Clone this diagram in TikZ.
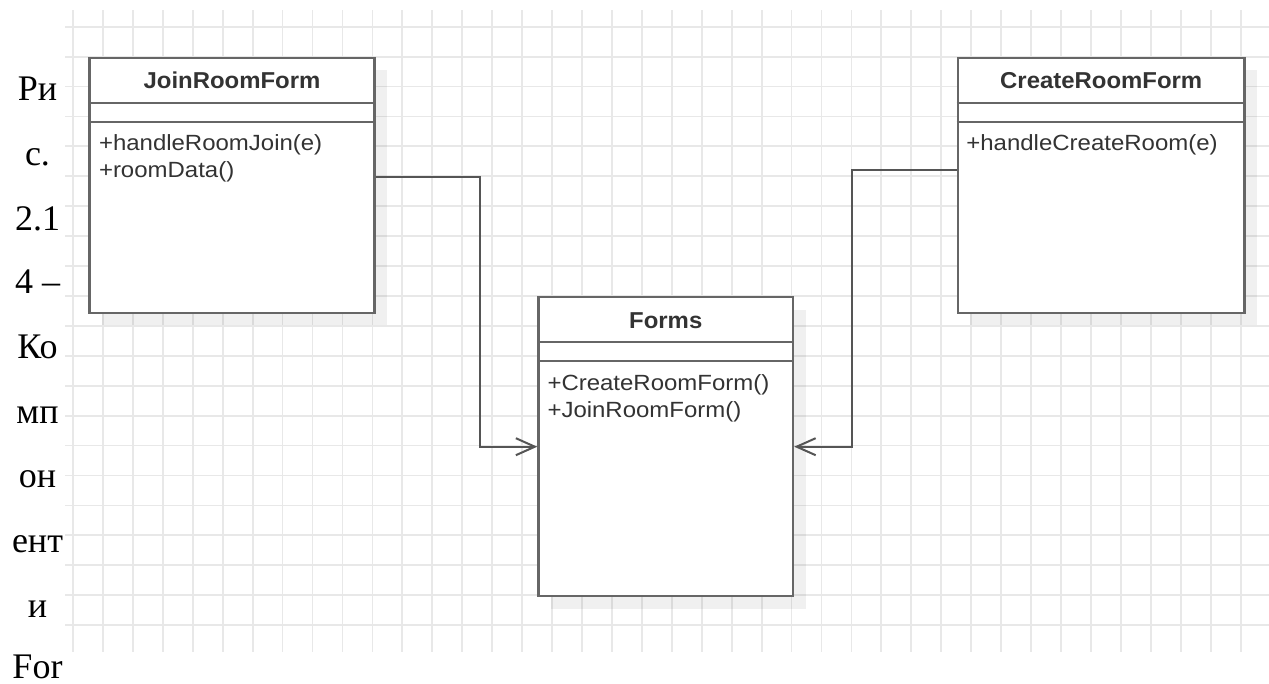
\documentclass[tikz,border=0pt]{standalone}
\usepackage{fontspec}
\setmainfont{Liberation Sans}
\newfontfamily\capfont{Liberation Serif}
\usetikzlibrary{arrows.meta}
\definecolor{gridc}{HTML}{E8E8E8}
\definecolor{boxc}{HTML}{666666}
\definecolor{linec}{HTML}{555555}
\definecolor{txtc}{HTML}{333333}
\tikzset{
  gridline/.style={draw=gridc, line width=1.8pt},
  umlbox/.style={draw=boxc, line width=2.4pt, fill=white, inner sep=0pt, anchor=north west},
  boxshadow/.style={fill=black, fill opacity=0.06, draw=none},
  sepline/.style={draw=boxc, line width=2.2pt},
  umltitle/.style={anchor=base, inner sep=0pt, text=txtc, font=\fontsize{23}{26}\selectfont\bfseries},
  umlop/.style={anchor=base west, inner sep=0pt, text=txtc, font=\fontsize{22}{26}\selectfont},
  conn/.style={draw=linec, line width=2pt, -{Straight Barb[length=19pt,width=17pt,line width=2pt]}},
  captxt/.style={anchor=base, inner sep=0pt, font=\capfont\fontsize{36}{40}\selectfont}
}
\newcommand{\wide}[1]{\scalebox{1.09}[1]{#1}}
\begin{document}
\begin{tikzpicture}[x=1pt, y=-1pt]
  \useasboundingbox (0,0) rectangle (1269,683);
  \fill[white] (0,0) rectangle (1269,683);

  % background grid
  \foreach \i in {0,...,39}
    \draw[gridline] ({73+29.94*\i},10) -- ({73+29.94*\i},652);
  \foreach \j in {0,...,20}
    \draw[gridline] (65,{26.7+29.92*\j}) -- (1269,{26.7+29.92*\j});

  % shadows
  \fill[boxshadow] (101.8,70.2) rectangle (386.8,325.2);
  \fill[boxshadow] (551,309.5) rectangle (805.5,608.5);
  \fill[boxshadow] (970.2,70.2) rectangle (1256.8,325.2);

  % class boxes
  \node[umlbox, minimum width=285pt, minimum height=255pt] (join) at (88.3,56.7) {};
  \node[umlbox, minimum width=254.5pt, minimum height=299pt] (forms) at (537.3,296) {};
  \node[umlbox, minimum width=286.6pt, minimum height=255pt] (create) at (956.7,56.7) {};

  % compartments
  \foreach \b/\ya/\yb in {join/46.6/65.6, forms/46.3/65.3, create/46/65} {
    \draw[sepline] ([yshift=-\ya pt]\b.north west) -- ([yshift=-\ya pt]\b.north east);
    \draw[sepline] ([yshift=-\yb pt]\b.north west) -- ([yshift=-\yb pt]\b.north east);
  }

  % titles
  \node[umltitle] (tjoin) at ([yshift=-31.5pt]join.north) {\scalebox{1.04}[1]{JoinRoomForm}};
  \node[umltitle] (tforms) at ([yshift=-32pt]forms.north) {\scalebox{1.04}[1]{Forms}};
  \node[umltitle] (tcreate) at ([yshift=-32pt]create.north) {\scalebox{1.04}[1]{CreateRoomForm}};

  % operations
  \node[umlop] (j1) at ([xshift=10.5pt,yshift=-94pt]join.north west) {\wide{+handleRoomJoin(e)}};
  \node[umlop] (j2) at ([xshift=10.5pt,yshift=-120.5pt]join.north west) {\wide{+roomData()}};
  \node[umlop] (f1) at ([xshift=10pt,yshift=-94pt]forms.north west) {\wide{+CreateRoomForm()}};
  \node[umlop] (f2) at ([xshift=10pt,yshift=-121pt]forms.north west) {\wide{+JoinRoomForm()}};
  \node[umlop] (c1) at ([xshift=9.5pt,yshift=-93.5pt]create.north west) {\wide{+handleCreateRoom(e)}};

  % dependencies
  \draw[conn] ([yshift=8pt]join.east) -- ++(104,0) |- (forms.west);
  \draw[conn] ([yshift=15pt]create.west) -- ++(-105,0) |- (forms.east);

  % caption column
  \foreach \t/\y [count=\k] in {Ри/100, с./165, 2.1/230, 4 –/293, Ко/358, мп/423, он/487, ент/552, и/617, For/678}
    \node[captxt] (cap\k) at (37.5,\y) {\t};
\end{tikzpicture}
\end{document}
